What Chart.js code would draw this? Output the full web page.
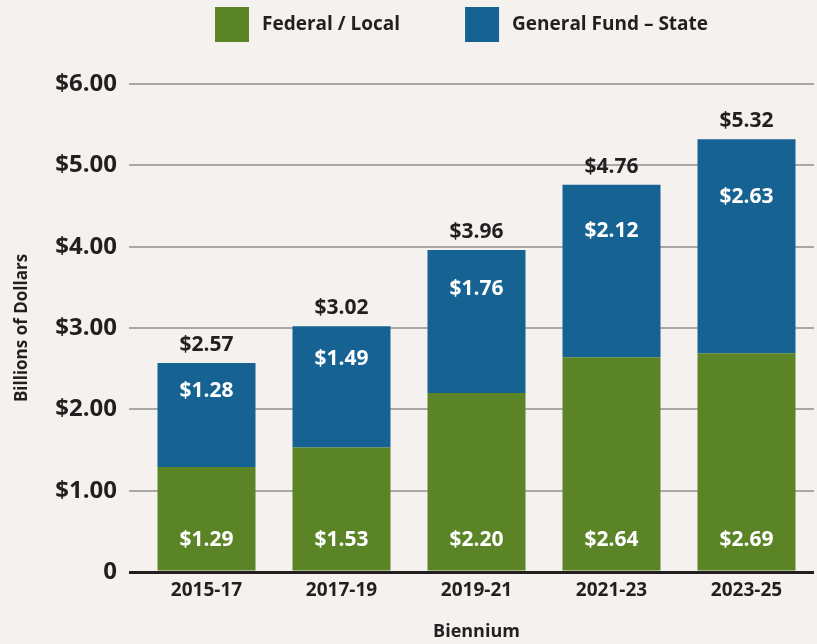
<!DOCTYPE html>
<html>
<head>
<meta charset="utf-8">
<script src="https://cdn.jsdelivr.net/npm/chart.js@4.4.0/dist/chart.umd.min.js"></script>
<style>
html, body { margin: 0; padding: 0; background: #f4f1ee; }
</style>
</head>
<body>
<canvas id="chart_budget" width="817" height="644"></canvas>
<script>
var bienniums = ["2015-17", "2017-19", "2019-21", "2021-23", "2023-25"];
var federal_local = [1.29, 1.53, 2.20, 2.64, 2.69];
var general_fund = [1.28, 1.49, 1.76, 2.12, 2.63];
var biennium_totals = [2.57, 3.02, 3.96, 4.76, 5.32];
var y_tick_values = [0, 1, 2, 3, 4, 5, 6];

var font_family = "'Open Sans', 'DejaVu Sans', sans-serif";
var text_color = "#231f20";

function money(v) {
        return "$" + v.toFixed(2);
}

// value labels inside the segments and totals above each stack
var bar_labels = {
        id: "bar_labels",
        afterDatasetsDraw: function(chart) {
                var ctx = chart.ctx;
                var green = chart.getDatasetMeta(0).data;
                var blue = chart.getDatasetMeta(1).data;
                ctx.save();
                ctx.textAlign = "center";
                ctx.textBaseline = "middle";
                ctx.font = "bold 21px " + font_family;
                for (let i = 0; i < green.length; i++) {
                        ctx.fillStyle = "#ffffff";
                        ctx.fillText(money(federal_local[i]), green[i].x, green[i].base - 30);
                        var h = blue[i].base - blue[i].y;
                        ctx.fillText(money(general_fund[i]), blue[i].x, blue[i].y + h * 0.27);
                        ctx.fillStyle = text_color;
                        ctx.fillText(money(biennium_totals[i]), blue[i].x, blue[i].y - 18);
                }
                ctx.restore();
        }
};

// legend on top, boxes a bit taller than the text
var top_legend = {
        id: "top_legend",
        afterDraw: function(chart) {
                var ctx = chart.ctx;
                var x = chart.chartArea.left + 76;
                ctx.save();
                ctx.font = "bold 19px " + font_family;
                ctx.textBaseline = "middle";
                ctx.textAlign = "left";
                chart.data.datasets.forEach(function(ds) {
                        ctx.fillStyle = ds.backgroundColor;
                        ctx.fillRect(x, 7, 34, 35);
                        ctx.fillStyle = text_color;
                        ctx.fillText(ds.label, x + 47, 25);
                        x += 47 + ctx.measureText(ds.label).width + 65;
                });
                ctx.restore();
        }
};

new Chart("chart_budget", {
        type: "bar",
        data: {
                labels: bienniums,
                datasets: [{
                        label: "Federal / Local",
                        data: federal_local,
                        backgroundColor: "#5b8427",
                        borderWidth: 0
                }, {
                        label: "General Fund \u2013 State",
                        data: general_fund,
                        backgroundColor: "#156293",
                        borderWidth: 0
                }]
        },
        plugins: [bar_labels, top_legend],
        options: {
                responsive: false,
                animation: false,
                devicePixelRatio: 1,
                barPercentage: 0.726,
                categoryPercentage: 1,
                layout: {
                        padding: { top: 84, right: 3, bottom: 0, left: 8 }
                },
                plugins: {
                        legend: { display: false },
                        tooltip: { enabled: false }
                },
                scales: {
                        x: {
                                stacked: true,
                                grid: { display: false, drawTicks: false },
                                border: { display: false },
                                ticks: {
                                        color: text_color,
                                        padding: 7,
                                        font: { family: font_family, size: 19, weight: "bold" }
                                },
                                title: {
                                        display: true,
                                        text: "Biennium",
                                        color: text_color,
                                        padding: { top: 0, bottom: 1 },
                                        font: { family: font_family, size: 18, weight: "bold" }
                                },
                                afterFit: function(axis) { axis.height = 72; }
                        },
                        y: {
                                stacked: true,
                                min: 0,
                                max: 6,
                                afterBuildTicks: function(axis) {
                                        axis.ticks = y_tick_values.map(function(v) { return { value: v }; });
                                },
                                ticks: {
                                        color: text_color,
                                        padding: 12,
                                        font: { family: font_family, size: 24, weight: "bold" },
                                        callback: function(v) { return v === 0 ? "0" : money(v); }
                                },
                                grid: {
                                        tickLength: 10,
                                        color: function(c) { return c.tick && c.tick.value === 0 ? text_color : "#a8a8a8"; },
                                        lineWidth: function(c) { return c.tick && c.tick.value === 0 ? 3 : 2; }
                                },
                                border: { display: false },
                                title: {
                                        display: true,
                                        text: "Billions of Dollars",
                                        color: text_color,
                                        padding: { top: 4, bottom: 0 },
                                        font: { family: font_family, size: 17, weight: "bold" }
                                },
                                afterFit: function(axis) { axis.width = 131; }
                        }
                }
        }
});
</script>
</body>
</html>
